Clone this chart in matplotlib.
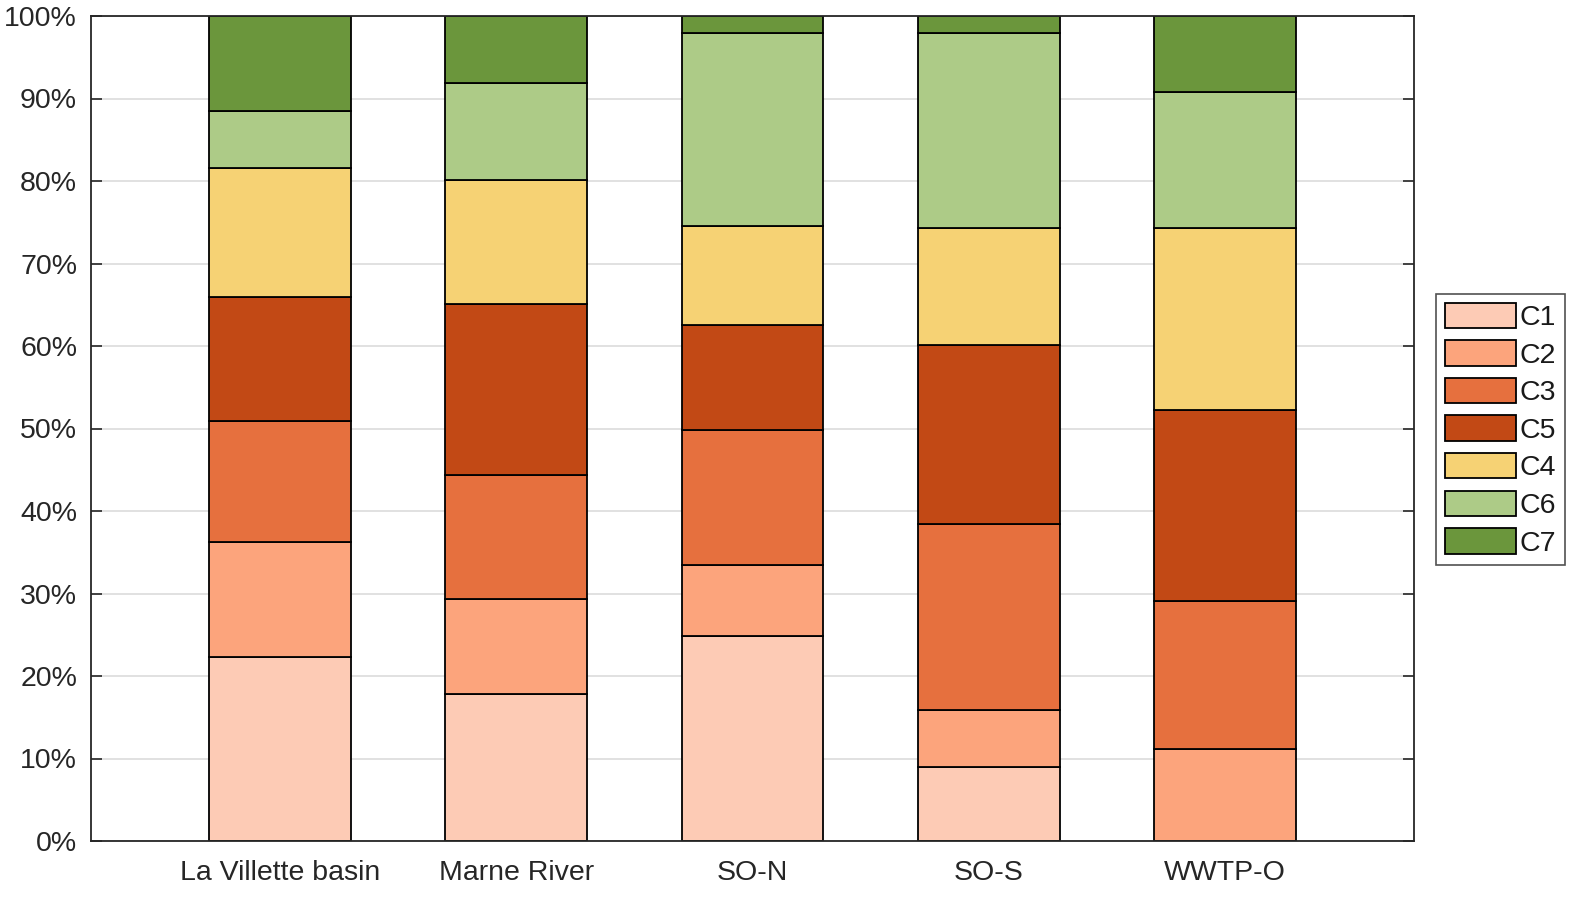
import matplotlib
matplotlib.use("Agg")
import matplotlib.pyplot as plt
import numpy as np

categories = ["La Villette basin", "Marne River", "SO-N", "SO-S", "WWTP-O"]
series_names = ["C1", "C2", "C3", "C5", "C4", "C6", "C7"]
C1 = [22.3, 17.8, 24.8, 9.0, 0.0]
C2 = [13.9, 11.5, 8.7, 6.9, 11.2]
C3 = [14.7, 15.1, 16.3, 22.5, 17.9]
C5 = [15.0, 20.7, 12.7, 21.7, 23.1]
C4 = [15.7, 15.0, 12.0, 14.2, 22.1]
C6 = [6.9, 11.8, 23.4, 23.6, 16.5]
C7 = [11.5, 8.1, 2.1, 2.1, 9.2]
values = [C1, C2, C3, C5, C4, C6, C7]
colors = ["#FDCBB5", "#FCA47C", "#E6703E", "#C24915", "#F6D274", "#ADCB87", "#6B963C"]
yticks = [0, 10, 20, 30, 40, 50, 60, 70, 80, 90, 100]

plt.rcParams['font.family'] = ['Liberation Sans', 'DejaVu Sans']
fig = plt.figure(figsize=(15.95, 9.11), dpi=100)
ax = fig.add_axes([91/1595, 1-841/911, (1414-91)/1595, (841-16)/911])

x = np.arange(1, len(categories)+1)
bottom = np.zeros(len(categories))
for name, vals, c in zip(series_names, values, colors):
    v = np.array(vals)
    ax.bar(x, v, 0.6, bottom=bottom, color=c, edgecolor="black", linewidth=1.3, label=name, zorder=3)
    bottom += v

ax.set_xlim(0.2, 5.8)
ax.set_ylim(0, 100)
ax.set_yticks(yticks)
ax.set_yticklabels([f"{t}%" for t in yticks])
ax.set_xticks(x)
ax.set_xticklabels(categories)
ax.yaxis.grid(True, color="#DCDCDC", linewidth=1.2, zorder=0)
ax.set_axisbelow(True)
ax.tick_params(direction="in", length=8, width=1.2, top=True, right=True, labelsize=20.5, colors="#262626", pad=10)
ax.tick_params(axis='x', pad=14)
for s in ax.spines.values():
    s.set_linewidth(1.3)
    s.set_color("#262626")
    s.set_zorder(5)

leg = ax.legend(loc="upper left", bbox_to_anchor=(1436/1595, 1-294/911), bbox_transform=fig.transFigure,
                fontsize=20.5, frameon=True, fancybox=False, edgecolor="#262626",
                handlelength=2.5, handleheight=1.0, labelspacing=0.32, handletextpad=0.15,
                borderpad=0.3, borderaxespad=0)
leg.get_frame().set_linewidth(1.2)
for t in leg.get_texts():
    t.set_color("#1a1a1a")
fig.savefig("out.png", dpi=100)
